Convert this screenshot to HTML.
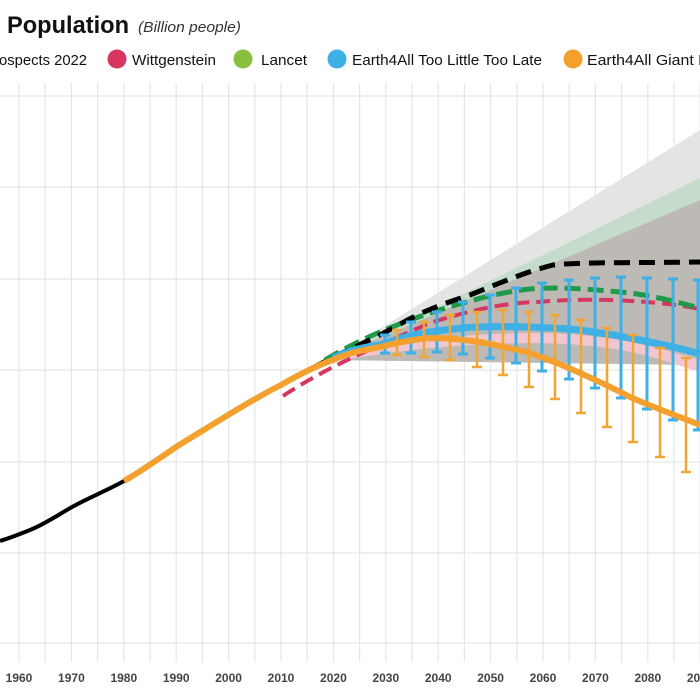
<!DOCTYPE html>
<html><head><meta charset="utf-8"><style>
html,body{margin:0;padding:0;background:#fff;width:700px;height:700px;overflow:hidden}
svg{display:block;font-family:"Liberation Sans",sans-serif}
</style></head><body>
<svg width="700" height="700" viewBox="0 0 700 700">
<text x="7" y="33" font-size="24" font-weight="bold" fill="#111" textLength="122" lengthAdjust="spacingAndGlyphs">Population</text>
<text x="138" y="32" font-size="15" font-style="italic" fill="#333" textLength="103" lengthAdjust="spacingAndGlyphs">(Billion people)</text>
<g font-size="15" fill="#111">
<text x="-1" y="65" textLength="88" lengthAdjust="spacingAndGlyphs">ospects 2022</text>
<circle cx="117" cy="59" r="9.5" fill="#d6365f"/><text x="132" y="65" textLength="84" lengthAdjust="spacingAndGlyphs">Wittgenstein</text>
<circle cx="243" cy="59" r="9.5" fill="#86c03d"/><text x="261" y="65" textLength="46" lengthAdjust="spacingAndGlyphs">Lancet</text>
<circle cx="337" cy="59" r="9.5" fill="#3eb0e6"/><text x="352" y="65" textLength="190" lengthAdjust="spacingAndGlyphs">Earth4All Too Little Too Late</text>
<circle cx="573" cy="59" r="9.5" fill="#f4a02e"/><text x="587" y="65" textLength="120" lengthAdjust="spacingAndGlyphs">Earth4All Giant L</text>
</g>
<g stroke="#e6e6e6" stroke-width="1.2" id="grid"></g>
<g id="bands">
<polygon points="333,358 700,130 700,365 333,360" fill="#e4e4e4"/>
<polygon points="333,358 700,178 700,365 333,360" fill="#c6dcca"/>
<polygon points="333,358 700,200 700,365 333,360" fill="#bdb9b4"/>
<path d="M333,362 C420,345 520,340 580,345 S660,360 700,372 L700,360 C660,348 620,338 580,335 C520,330 430,333 333,360Z" fill="#f2c6cf"/>
</g>
<g fill="none" stroke-width="4">
<path d="M0,541 C10,538 20,534 30,530 C45,524 58,515 72,507 C90,497 108,490 124,481" stroke="#000"/>
<path d="M124,481 C140,472 160,458 176,447 C195,435 212,425 228,415 C248,403 265,393 281,385 C300,374 318,365 333,357" stroke="#000" stroke-width="4.5"/>
<path d="M283,396 C330,365 380,345 430,323 C470,310 510,302 537,302 C570,299 610,299 647,302 C670,304 685,306 700,309" stroke="#d6365f" stroke-dasharray="14,7"/>
<path d="M325,360 C350,345 380,330 430,313 C460,303 500,292 530,289 C555,287 580,288 630,293 C660,297 680,303 700,308" stroke="#1f9a48" stroke-dasharray="16,7" stroke-width="5"/>
<path d="M333,357 C360,345 380,335 395,327 C420,312 445,303 470,295 C500,283 525,272 553,265 C580,262 630,263 700,262" stroke="#000" stroke-dasharray="16,9" stroke-width="5"/>
<path d="M333,358 C350,350 365,347 380,345 C400,338 415,334 430,332 C450,329 465,327 480,327 C500,326 515,327 530,327 C555,328 570,329 580,330 C600,333 615,335 630,338 C660,344 680,348 700,354" stroke="#3eb0e6" stroke-width="7"/>
</g>
<g stroke="#3eb0e6" stroke-width="3" id="eb1"></g>
<g stroke="#f0a535" stroke-width="2.5" id="eb2"></g>
<g fill="none" stroke-width="6" stroke="#f4a02e">
<path d="M124,481 C140,472 160,458 176,447 C195,435 212,425 228,415 C248,403 265,393 281,385 C300,374 318,365 333,360 C350,352 365,350 380,347 C400,342 415,339 430,338 C450,338 465,340 480,342 C500,346 515,349 530,353 C550,360 565,366 580,373 C600,382 615,389 630,397 C660,410 680,417 700,425"/>
</g>
<g font-size="12" fill="#444" font-weight="bold" text-anchor="middle" id="lab"></g>
<script>
const ns="http://www.w3.org/2000/svg";
function el(p,t,a){const e=document.createElementNS(ns,t);for(const k in a)e.setAttribute(k,a[k]);p.appendChild(e);return e;}
const g=document.getElementById('grid');
for(let i=-1;i<28;i++){const x=19+i*26.2;el(g,'line',{x1:x,y1:83,x2:x,y2:662});}
[96,187,279,370,462,553,643].forEach(y=>el(g,'line',{x1:0,y1:y,x2:700,y2:y}));
const lab=document.getElementById('lab');
for(let i=0;i<14;i++){const t=el(lab,'text',{x:19+i*52.4,y:682});t.textContent=1960+i*10;}
const bx=[385,411,437,463,490,516,542,569,595,621,647,673,698],bt=[335,322,312,302,295,288,283,280,278,277,278,279,280],bb=[353,353,352,354,358,363,371,379,388,398,409,420,430];
const e1=document.getElementById('eb1');
bx.forEach((x,i)=>{el(e1,'line',{x1:x,y1:bt[i],x2:x,y2:bb[i]});el(e1,'line',{x1:x-5,y1:bt[i],x2:x+5,y2:bt[i]});el(e1,'line',{x1:x-5,y1:bb[i],x2:x+5,y2:bb[i]});});
const ox=[397,424,450,477,503,529,555,581,607,633,660,686],ot=[330,322,315,312,310,312,315,320,328,335,348,358],ob=[355,357,360,367,375,387,399,413,427,442,457,472];
const e2=document.getElementById('eb2');
ox.forEach((x,i)=>{el(e2,'line',{x1:x,y1:ot[i],x2:x,y2:ob[i]});el(e2,'line',{x1:x-5,y1:ot[i],x2:x+5,y2:ot[i]});el(e2,'line',{x1:x-5,y1:ob[i],x2:x+5,y2:ob[i]});});
</script>
</svg>
</body></html>
